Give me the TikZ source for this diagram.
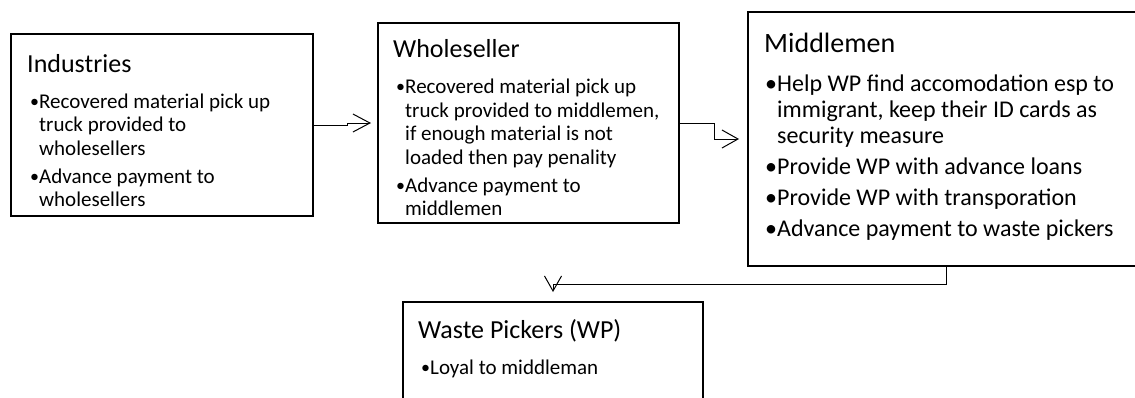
\documentclass[tikz,border=0pt]{standalone}
\usepackage{fontspec}
\setmainfont{Carlito}
\usetikzlibrary{arrows.meta}
\begin{document}
\begin{tikzpicture}[x=1pt,y=-1pt,
  box/.style={draw, line width=2pt, anchor=north west, inner sep=0pt},
  ttl/.style={anchor=base west, inner sep=0pt, font=\fontsize{26}{30}\selectfont},
  ttlm/.style={anchor=base west, inner sep=0pt, font=\fontsize{28}{32}\selectfont},
  txt/.style={anchor=base west, inner sep=0pt, font=\fontsize{21}{25}\selectfont},
  txtm/.style={anchor=base west, inner sep=0pt, font=\fontsize{24}{28}\selectfont},
  bul/.style={anchor=base west, inner sep=0pt, font=\fontsize{18}{22}\selectfont},
  conn/.style={draw, line width=1pt, -{Straight Barb[length=17pt,width=18pt]}}]
\useasboundingbox (0,0) rectangle (1135,397);
\clip (0,0) rectangle (1135,397);
% boxes
\node[box, minimum width=302pt, minimum height=182pt] (ind) at (10,33) {};
\node[box, minimum width=301pt, minimum height=200pt] (whl) at (377,22) {};
\node[box, minimum width=400pt, minimum height=254pt] (mid) at (747,11) {};
\node[box, minimum width=300pt, minimum height=110pt] (wp) at (402,301) {};
% Industries
\node[ttl] (it) at (27,72) {Industries};
\node[bul] (ib1) at (30,107) {•};
\node[txt] (i1) at (39,108) {Recovered material pick up};
\node[txt] (i2) at (39,131) {truck provided to};
\node[txt] (i3) at (39,155) {wholesellers};
\node[bul] (ib2) at (30,182) {•};
\node[txt] (i4) at (39,183) {Advance payment to};
\node[txt] (i5) at (39,206) {wholesellers};
% Wholeseller
\node[ttl] (wt) at (393,57) {Wholeseller};
\node[bul] (wb1) at (396,92) {•};
\node[txt] (w1) at (405,93) {Recovered material pick up};
\node[txt] (w2) at (405,117) {truck provided to middlemen,};
\node[txt] (w3) at (405,140) {if enough material is not};
\node[txt] (w4) at (405,164) {loaded then pay penality};
\node[bul] (wb2) at (396,191) {•};
\node[txt] (w5) at (405,192) {Advance payment to};
\node[txt] (w6) at (405,215) {middlemen};
% Middlemen
\node[ttlm] (mt) at (764,52) {Middlemen};
\node[txtm] (mb1) at (765,91) {•};
\node[txtm] (m1) at (777,91) {Help WP find accomodation esp to};
\node[txtm] (m2) at (777,117) {immigrant, keep their ID cards as};
\node[txtm] (m3) at (777,143) {security measure};
\node[txtm] (mb2) at (765,174) {•};
\node[txtm] (m4) at (777,174) {Provide WP with advance loans};
\node[txtm] (mb3) at (765,205) {•};
\node[txtm] (m5) at (777,205) {Provide WP with transporation};
\node[txtm] (mb4) at (765,236) {•};
\node[txtm] (m6) at (777,236) {Advance payment to waste pickers};
% Waste pickers
\node[ttl] (pt) at (418,338) {Waste Pickers (WP)};
\node[bul] (pb1) at (421,373) {•};
\node[txt] (p1) at (430,374) {Loyal to middleman};
% connectors
\draw[conn] (ind.east) -- ++(33,0) -- ++(0,-2) -- ([xshift=-6pt]whl.west);
\draw[conn, -{Straight Barb[length=16pt,width=18pt]}] (whl.east) -- ++(34,0) |- ([xshift=-8pt]mid.west);
\draw[conn, -{Straight Barb[length=15pt,width=17pt]}] ([xshift=-2pt]mid.south) -- ++(0,17) -| ([yshift=9pt]wp.north);
\end{tikzpicture}
\end{document}
